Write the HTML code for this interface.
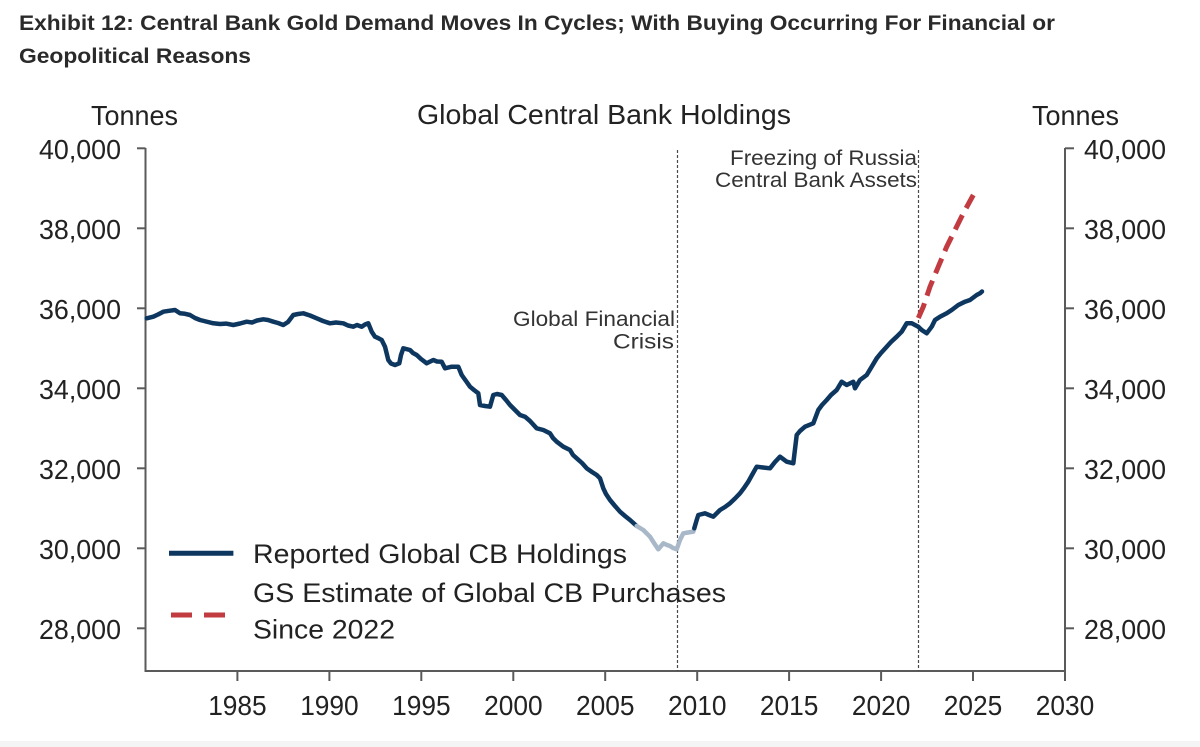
<!DOCTYPE html>
<html>
<head>
<meta charset="utf-8">
<style>
  html, body { margin: 0; padding: 0; background: #ffffff; }
  body { width: 1200px; height: 747px; overflow: hidden; }
  svg { display: block; }
  text { font-family: "Liberation Sans", Arial, sans-serif; fill: #222; }
  .title { font-weight: bold; font-size: 21px; fill: #2a2a2a; }
  .big { font-size: 28px; }
  .ann { font-size: 21px; fill: #333; }
</style>
</head>
<body>
<svg width="1200" height="747" viewBox="0 0 1200 747" xmlns="http://www.w3.org/2000/svg">
  <rect x="0" y="0" width="1200" height="747" fill="#ffffff"/>
  <rect x="0" y="741" width="1200" height="6" fill="#f4f4f4"/>

  <!-- Title -->
  <text class="title" x="19" y="30" textLength="1036" lengthAdjust="spacingAndGlyphs">Exhibit 12: Central Bank Gold Demand Moves In Cycles; With Buying Occurring For Financial or</text>
  <text class="title" x="19" y="63" textLength="232" lengthAdjust="spacingAndGlyphs">Geopolitical Reasons</text>

  <!-- Headers -->
  <text class="big" x="91" y="125" textLength="87" lengthAdjust="spacingAndGlyphs">Tonnes</text>
  <text class="big" x="417" y="124" textLength="374" lengthAdjust="spacingAndGlyphs">Global Central Bank Holdings</text>
  <text class="big" x="1032" y="125" textLength="87" lengthAdjust="spacingAndGlyphs">Tonnes</text>

  <!-- Axes -->
  <g stroke="#5a5a5a" stroke-width="2" fill="none">
    <line x1="145.5" y1="148" x2="145.5" y2="672"/>
    <line x1="1065" y1="148" x2="1065" y2="672"/>
    <line x1="144.5" y1="671" x2="1066" y2="671"/>
    <!-- left ticks -->
    <line x1="137" y1="148.3" x2="145.5" y2="148.3"/>
    <line x1="137" y1="228.3" x2="145.5" y2="228.3"/>
    <line x1="137" y1="308.3" x2="145.5" y2="308.3"/>
    <line x1="137" y1="388.3" x2="145.5" y2="388.3"/>
    <line x1="137" y1="468.3" x2="145.5" y2="468.3"/>
    <line x1="137" y1="548.3" x2="145.5" y2="548.3"/>
    <line x1="137" y1="628.3" x2="145.5" y2="628.3"/>
    <!-- right ticks -->
    <line x1="1065" y1="148.3" x2="1074" y2="148.3"/>
    <line x1="1065" y1="228.3" x2="1074" y2="228.3"/>
    <line x1="1065" y1="308.3" x2="1074" y2="308.3"/>
    <line x1="1065" y1="388.3" x2="1074" y2="388.3"/>
    <line x1="1065" y1="468.3" x2="1074" y2="468.3"/>
    <line x1="1065" y1="548.3" x2="1074" y2="548.3"/>
    <line x1="1065" y1="628.3" x2="1074" y2="628.3"/>
    <!-- x ticks -->
    <line x1="237.4" y1="671" x2="237.4" y2="681"/>
    <line x1="329.4" y1="671" x2="329.4" y2="681"/>
    <line x1="421.3" y1="671" x2="421.3" y2="681"/>
    <line x1="513.3" y1="671" x2="513.3" y2="681"/>
    <line x1="605.2" y1="671" x2="605.2" y2="681"/>
    <line x1="697.2" y1="671" x2="697.2" y2="681"/>
    <line x1="789.1" y1="671" x2="789.1" y2="681"/>
    <line x1="881.1" y1="671" x2="881.1" y2="681"/>
    <line x1="973.0" y1="671" x2="973.0" y2="681"/>
    <line x1="1065" y1="671" x2="1065" y2="681"/>
  </g>

  <!-- Left y labels -->
  <g class="big">
    <text class="big" x="39" y="159" textLength="82" lengthAdjust="spacingAndGlyphs">40,000</text>
    <text class="big" x="39" y="239" textLength="82" lengthAdjust="spacingAndGlyphs">38,000</text>
    <text class="big" x="39" y="319" textLength="82" lengthAdjust="spacingAndGlyphs">36,000</text>
    <text class="big" x="39" y="399" textLength="82" lengthAdjust="spacingAndGlyphs">34,000</text>
    <text class="big" x="39" y="479" textLength="82" lengthAdjust="spacingAndGlyphs">32,000</text>
    <text class="big" x="39" y="559" textLength="82" lengthAdjust="spacingAndGlyphs">30,000</text>
    <text class="big" x="39" y="639" textLength="82" lengthAdjust="spacingAndGlyphs">28,000</text>
  </g>
  <!-- Right y labels -->
  <g>
    <text class="big" x="1084" y="159" textLength="82" lengthAdjust="spacingAndGlyphs">40,000</text>
    <text class="big" x="1084" y="239" textLength="82" lengthAdjust="spacingAndGlyphs">38,000</text>
    <text class="big" x="1084" y="319" textLength="82" lengthAdjust="spacingAndGlyphs">36,000</text>
    <text class="big" x="1084" y="399" textLength="82" lengthAdjust="spacingAndGlyphs">34,000</text>
    <text class="big" x="1084" y="479" textLength="82" lengthAdjust="spacingAndGlyphs">32,000</text>
    <text class="big" x="1084" y="559" textLength="82" lengthAdjust="spacingAndGlyphs">30,000</text>
    <text class="big" x="1084" y="639" textLength="82" lengthAdjust="spacingAndGlyphs">28,000</text>
  </g>

  <!-- X labels -->
  <g>
    <text class="big" x="208.2" y="715" textLength="58.5" lengthAdjust="spacingAndGlyphs">1985</text>
    <text class="big" x="300.2" y="715" textLength="58.5" lengthAdjust="spacingAndGlyphs">1990</text>
    <text class="big" x="392.1" y="715" textLength="58.5" lengthAdjust="spacingAndGlyphs">1995</text>
    <text class="big" x="484.1" y="715" textLength="58.5" lengthAdjust="spacingAndGlyphs">2000</text>
    <text class="big" x="576.0" y="715" textLength="58.5" lengthAdjust="spacingAndGlyphs">2005</text>
    <text class="big" x="668.0" y="715" textLength="58.5" lengthAdjust="spacingAndGlyphs">2010</text>
    <text class="big" x="759.9" y="715" textLength="58.5" lengthAdjust="spacingAndGlyphs">2015</text>
    <text class="big" x="851.9" y="715" textLength="58.5" lengthAdjust="spacingAndGlyphs">2020</text>
    <text class="big" x="943.8" y="715" textLength="58.5" lengthAdjust="spacingAndGlyphs">2025</text>
    <text class="big" x="1035.8" y="715" textLength="58.5" lengthAdjust="spacingAndGlyphs">2030</text>
  </g>

  <!-- Event lines -->
  <g stroke="#4a4a4a" stroke-width="1.2" stroke-dasharray="3 2" fill="none">
    <line x1="677.5" y1="150" x2="677.5" y2="671"/>
    <line x1="918.5" y1="150" x2="918.5" y2="671"/>
  </g>

  <!-- Annotations -->
  <text class="ann" x="513" y="326" textLength="162" lengthAdjust="spacingAndGlyphs">Global Financial</text>
  <text class="ann" x="613" y="348.5" textLength="61" lengthAdjust="spacingAndGlyphs">Crisis</text>
  <text class="ann" x="730" y="165" textLength="187" lengthAdjust="spacingAndGlyphs">Freezing of Russia</text>
  <text class="ann" x="715" y="187" textLength="202" lengthAdjust="spacingAndGlyphs">Central Bank Assets</text>

  <!-- Series: reported holdings -->
  <g fill="none" stroke-width="4.5" stroke-linejoin="round" stroke-linecap="round">
    <polyline stroke="#0e3760" points="146.7,318.3 153.3,316.7 158,314.5 163.3,311.7 169,310.8 175,310 180,313.3 185,313.8 190,315 195,318 200,320 206,321.5 213.3,323.3 220,324 226,323.6 233.3,325 240,323.5 246.7,321.7 252,322.5 257,320.5 263.3,319.3 268,320 273.3,321.7 278,323 283.3,325 288,322 293.3,315 298,314 303.3,313.3 310,315.5 316.7,318.3 323,321 330,323.3 336,322.5 343.3,323.3 348,325.5 353.3,326.7 357,325 361.7,326.7 365,324.5 368.3,323.3 371.7,331.7 375,336.7 378,338 381.7,340 385,346.7 388.3,360 391,363.5 395,365 399.3,363.3 401,355 403.3,348.3 410,350 413,353 416.7,355 421,359 426.7,363.3 433.3,360 437,361.5 441.7,361.7 445,368.3 451.7,366.7 458.3,366.7 461.7,375 466,381 470,386.7 474,390 478.3,393.3 480,405 485,406 490,406.7 493.3,395 497,394 501.7,395 506,400 510,405 515,410 520,415 525,416.7 530,421 536.7,428.3 543.3,430 550,433.3 553,438 556.7,441.7 563.3,446.7 570,450 573,455 576.7,458.3 582,463 586.7,468.3 592,472 596.7,475 600,478.3 603.3,488.3 606,494 610,500 615,506 620,511.7 625,516 630,520 636.7,526"/>
    <polyline stroke="#a9b8c8" points="636.7,526 643.3,530 650,536.7 654,543 658.3,549.3 663.3,543.3 667,545 670,546 673,548 676.7,549.3 680,540 683.3,533.3 688,532.5 693.3,531.7 694.3,528.3"/>
    <polyline stroke="#0e3760" points="694.3,528.3 696.7,520 698.3,515 705,513.3 709,515 713.3,516.7 720,510 725,507 730,503.3 735,498.5 740,493.3 744,488 748.3,481.7 752,475 756.7,466.7 763,467.5 770,468.3 775,462 780,456.7 786.7,461.7 793.3,463.3 796.7,435 800,431 805,426.7 813.3,423.3 818.3,410 822,405 826.7,400 831,395 836.7,390 841.7,381.7 846.7,385 853.3,381.7 855,388.3 860,380 866.7,375 871.7,366.7 876.7,358.3 881,353 886.7,346.7 891,342 896.7,336.7 901.7,331.7 906.7,323.3 911.7,323.3 918.3,326.7 921.7,330 926.7,333.3 931.7,326.7 935,320 940,316.7 946.7,313.3 951.7,310 958.3,305 965,301.7 970,300 976.7,295 980,293.3 982,291.5"/>
  </g>

  <!-- Series: GS estimate -->
  <polyline fill="none" stroke="#c23b41" stroke-width="5" stroke-dasharray="16 8" points="918.3,318 923.3,306.7 930,286.7 938.3,266.7 946.7,246.7 955,230 963.3,213.3 973.3,195"/>

  <!-- Legend -->
  <line x1="169" y1="553.3" x2="233.4" y2="553.3" stroke="#0e3760" stroke-width="5"/>
  <text class="big" x="253" y="563" textLength="374" lengthAdjust="spacingAndGlyphs" style="font-size:27px">Reported Global CB Holdings</text>
  <line x1="171" y1="615" x2="192" y2="615" stroke="#c23b41" stroke-width="5"/>
  <line x1="204" y1="615" x2="225" y2="615" stroke="#c23b41" stroke-width="5"/>
  <text class="big" x="253" y="602" textLength="473" lengthAdjust="spacingAndGlyphs" style="font-size:27px">GS Estimate of Global CB Purchases</text>
  <text class="big" x="253" y="638.5" textLength="142" lengthAdjust="spacingAndGlyphs" style="font-size:27px">Since 2022</text>
</svg>
</body>
</html>
